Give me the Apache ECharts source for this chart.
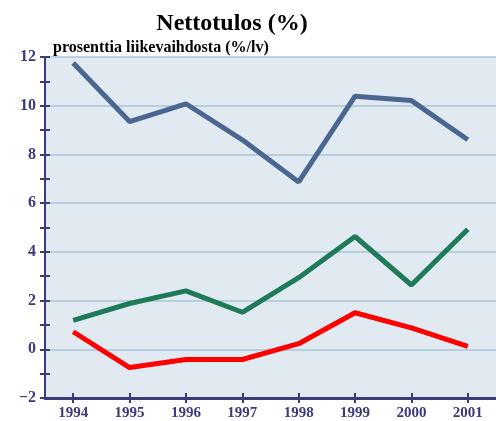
<!DOCTYPE html>
<html lang="fi">
<head>
    <meta charset="UTF-8">
    <title>Nettotulos (%)</title>
    <script src="https://cdn.jsdelivr.net/npm/echarts@6/dist/echarts.min.js"></script>
    <style>
        body, html {
            margin: 0;
            width: 100%;
            height: 100%;
            background: #fff;
        }
        #chart {
            width: 496px;
            height: 421px;
        }
    </style>
</head>
<body>
<div id="chart"></div>
<script>
    // data
    let years = ["1994", "1995", "1996", "1997", "1998", "1999", "2000", "2001"];
    let blueValues = [11.75, 9.35, 10.08, 8.6, 6.87, 10.39, 10.21, 8.6];
    let greenValues = [1.19, 1.88, 2.40, 1.52, 2.94, 4.63, 2.64, 4.93];
    let redValues = [0.72, -0.75, -0.42, -0.42, 0.23, 1.50, 0.88, 0.12];

    let navy = "#3b3b7c";
    let serif = "'Liberation Serif', 'DejaVu Serif', serif";

    let gridBox = {left: 45, right: 0, top: 57, bottom: 18};

    // ticks cross the axis line: one axis draws them outside, a twin draws them inside
    function yAxisBase(inside) {
        return {
            type: "value",
            position: "left",
            offset: 0,
            min: -2,
            max: 12,
            interval: 1,
            axisLine: {show: !inside, onZero: false, lineStyle: {color: navy, width: 2}},
            axisTick: {show: true, inside: inside, length: 5, lineStyle: {color: navy, width: 2}},
            axisLabel: {
                show: !inside,
                margin: 9,
                color: navy,
                fontFamily: serif,
                fontWeight: "bold",
                fontSize: 16,
                formatter: function (v) {
                    if (v % 2 !== 0) return "";
                    return v < 0 ? "\u2212" + Math.abs(v) : String(v);
                }
            },
            splitLine: {show: false}
        };
    }

    function xAxisBase(inside) {
        return {
            type: "category",
            position: "bottom",
            offset: 0,
            data: years,
            boundaryGap: true,
            axisLine: {show: !inside, onZero: false, lineStyle: {color: navy, width: 3}},
            axisTick: {show: true, alignWithLabel: true, inside: inside, length: 5, lineStyle: {color: navy, width: 2}},
            axisLabel: {
                show: !inside,
                margin: 8,
                color: navy,
                fontFamily: serif,
                fontWeight: "bold",
                fontSize: 15
            }
        };
    }

    // light grid lines on even values only
    let yGrid = {
        type: "value", position: "left", min: -2, max: 12, interval: 2,
        axisLine: {show: false}, axisTick: {show: false}, axisLabel: {show: false},
        splitLine: {show: true, lineStyle: {color: "#a9c4d8", width: 1.5}}
    };

    let option = {
        backgroundColor: "#ffffff",
        animation: false,
        title: [{
            text: "Nettotulos (%)",
            left: 227,
            textAlign: "center",
            top: 7,
            textStyle: {fontFamily: serif, fontWeight: "bold", fontSize: 24, color: "#000"}
        }, {
            text: "prosenttia liikevaihdosta (%/lv)",
            left: 48,
            top: 35,
            textStyle: {fontFamily: serif, fontWeight: "bold", fontSize: 16, color: "#000"}
        }],
        grid: Object.assign({backgroundColor: "#e1e9f1", show: true, borderWidth: 0}, gridBox),
        xAxis: [xAxisBase(false), xAxisBase(true)],
        yAxis: [yGrid, yAxisBase(false), yAxisBase(true)],
        series: [{
            name: "blue",
            type: "line",
            data: blueValues,
            yAxisIndex: 0,
            showSymbol: false,
            lineStyle: {color: "#4b6690", width: 5},
            itemStyle: {color: "#4b6690"}
        }, {
            name: "green",
            type: "line",
            data: greenValues,
            yAxisIndex: 0,
            showSymbol: false,
            lineStyle: {color: "#1f7a57", width: 5},
            itemStyle: {color: "#1f7a57"}
        }, {
            name: "red",
            type: "line",
            data: redValues,
            yAxisIndex: 0,
            showSymbol: false,
            lineStyle: {color: "#ff0000", width: 5},
            itemStyle: {color: "#ff0000"}
        }]
    };

    let chart = echarts.init(document.getElementById("chart"));
    chart.setOption(option);
</script>
</body>
</html>
